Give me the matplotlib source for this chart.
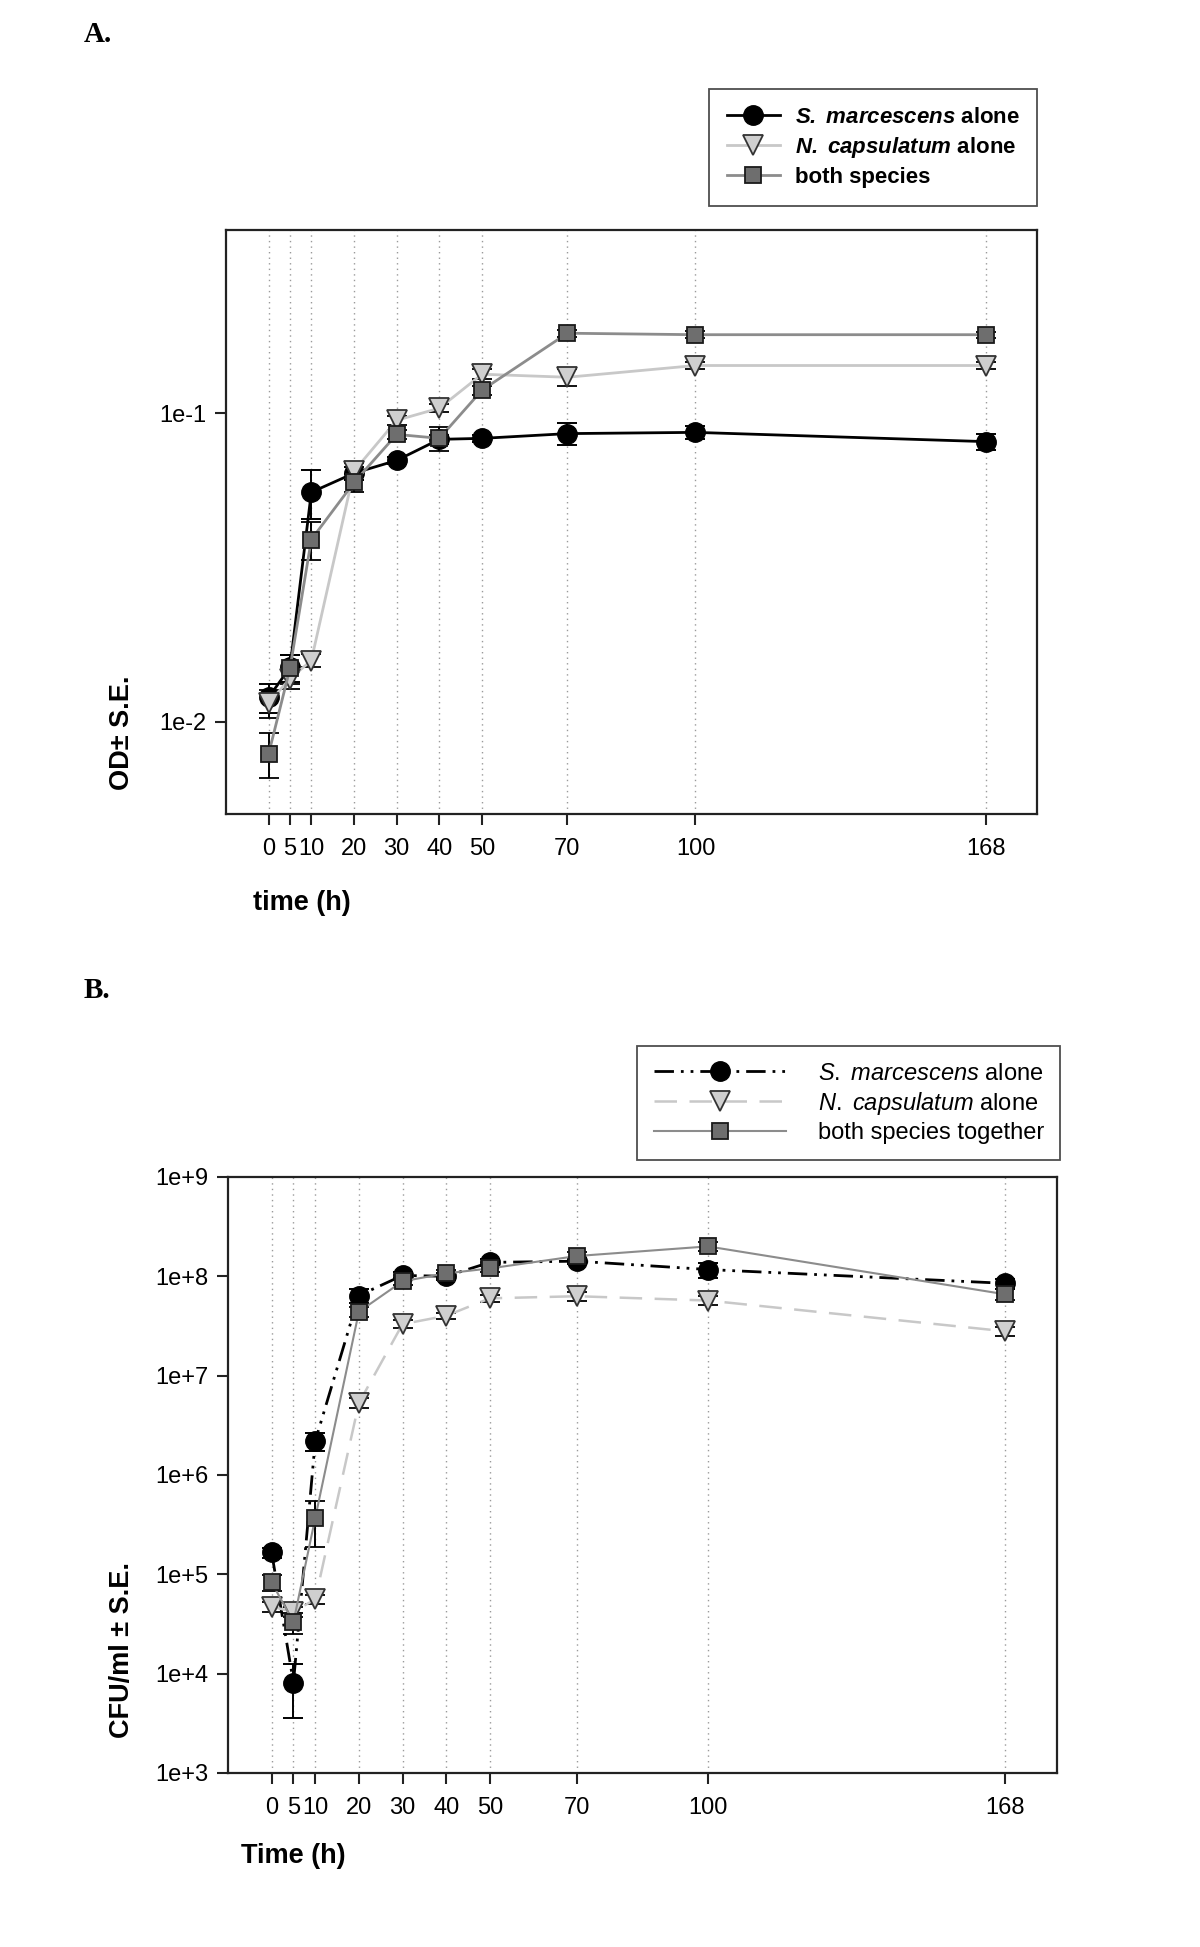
import matplotlib
matplotlib.use("Agg")
import matplotlib.pyplot as plt
from matplotlib.lines import Line2D
from matplotlib.ticker import FixedLocator, FixedFormatter, NullLocator

plt.rcParams['font.family'] = ['Liberation Sans', 'DejaVu Sans']
plt.rcParams['mathtext.fontset'] = 'custom'
plt.rcParams['mathtext.it'] = 'Liberation Sans:italic'
plt.rcParams['mathtext.bf'] = 'Liberation Sans:italic:bold'
plt.rcParams['mathtext.rm'] = 'Liberation Sans'

times = [0, 5, 10, 20, 30, 40, 50, 70, 100, 168]

# panel A: optical density
od_sm = [0.0120, 0.0150, 0.0555, 0.0640, 0.0704, 0.0824, 0.0830, 0.0860, 0.0868, 0.0810]
od_sm_se = [0.0013, 0.0015, 0.0100, 0.0030, 0.0020, 0.0030, 0.0020, 0.0070, 0.0040, 0.0050]
od_nc = [0.0115, 0.0138, 0.0158, 0.0650, 0.0950, 0.1040, 0.1340, 0.1310, 0.1430, 0.1430]
od_nc_se = [0.0012, 0.0010, 0.0008, 0.0040, 0.0030, 0.0030, 0.0050, 0.0080, 0.0040, 0.0040]
od_both = [0.00787, 0.0149, 0.0390, 0.0597, 0.0855, 0.0830, 0.1190, 0.1820, 0.1800, 0.1800]
od_both_se = [0.0013, 0.0016, 0.0055, 0.0040, 0.0030, 0.0075, 0.0040, 0.0050, 0.0050, 0.0040]

# panel B: colony forming units
cfu_sm = [1.66e5, 8.1e3, 2.2e6, 6.4e7, 1.02e8, 1.0e8, 1.38e8, 1.42e8, 1.17e8, 8.5e7]
cfu_sm_se = [2.0e4, 4.5e3, 4.5e5, 1.0e7, 8.0e6, 8.0e6, 1.2e7, 1.0e7, 2.0e7, 1.0e7]
cfu_nc = [4.7e4, 4.2e4, 5.6e4, 5.3e6, 3.3e7, 4.0e7, 6.0e7, 6.3e7, 5.7e7, 2.8e7]
cfu_nc_se = [5.0e3, 5.0e3, 6.0e3, 6.0e5, 3.0e6, 3.0e6, 5.0e6, 6.0e6, 6.0e6, 3.0e6]
cfu_both = [8.3e4, 3.3e4, 3.7e5, 4.4e7, 8.9e7, 1.07e8, 1.2e8, 1.6e8, 2.0e8, 6.6e7]
cfu_both_se = [1.5e4, 8.0e3, 1.8e5, 5.0e6, 8.0e6, 1.0e7, 1.0e7, 1.5e7, 2.0e7, 8.0e6]

labels_a = [r"$\mathbf{S.\ marcescens}$ alone", r"$\mathbf{N.\ capsulatum}$ alone", "both species"]
labels_b = [r"$\mathit{S.\ marcescens}$ alone", r"$\mathit{N.\ capsulatum}$ alone", "both species together"]

fig = plt.figure(figsize=(12, 19.47), dpi=100)
axA = fig.add_axes([0.1883, 0.5819, 0.6758, 0.2999])
axB = fig.add_axes([0.19, 0.0894, 0.6908, 0.3061])

sm_style = dict(color='black', marker='o', ms=14, mfc='black', mec='black')
nc_style = dict(color='#c8c8c8', marker='v', ms=14, mfc='#cfcfcf', mec='#333333', mew=1.3)
both_style = dict(color='#8c8c8c', marker='s', ms=12, mfc='#6e6e6e', mec='#1a1a1a', mew=1.3)
eb = dict(ecolor='black', elinewidth=1.4, capsize=7, capthick=1.4)


def draw(ax, series, styles, lstyles, lws):
    for (y, se), st, ls, lw in zip(series, styles, lstyles, lws):
        ax.errorbar(times, y, yerr=se, ls=ls, lw=lw, **st, **eb)


draw(axA, [(od_sm, od_sm_se), (od_nc, od_nc_se), (od_both, od_both_se)],
     [sm_style, nc_style, both_style], ['-', '-', '-'], [2.0, 2.0, 2.0])

dashdotdot = (0, (7, 2.5, 1, 2.5, 1, 2.5))
longdash = (0, (9, 5))
draw(axB, [(cfu_sm, cfu_sm_se), (cfu_nc, cfu_nc_se), (cfu_both, cfu_both_se)],
     [sm_style, nc_style, both_style], [dashdotdot, longdash, '-'], [2.0, 1.8, 1.5])

for ax in (axA, axB):
    ax.set_yscale('log')
    ax.set_xlim(-10, 180)
    ax.set_xticks(times)
    ax.set_xticklabels([str(t) for t in times])
    ax.grid(axis='x', linestyle=(0, (1, 3)), color='#9a9a9a', lw=1.0)
    ax.set_axisbelow(True)
    ax.tick_params(axis='both', labelsize=17, length=8, width=1.5, color='#222222')
    ax.tick_params(axis='x', pad=9)
    ax.tick_params(axis='y', pad=6)
    ax.yaxis.set_minor_locator(NullLocator())
    for s in ax.spines.values():
        s.set_linewidth(1.6)
        s.set_color('#222222')

axA.set_ylim(0.00502, 0.393)
axA.yaxis.set_major_locator(FixedLocator([0.01, 0.1]))
axA.yaxis.set_major_formatter(FixedFormatter(['1e-2', '1e-1']))

axB.set_ylim(1e3, 1e9)
bt = [1e3, 1e4, 1e5, 1e6, 1e7, 1e8, 1e9]
axB.yaxis.set_major_locator(FixedLocator(bt))
axB.yaxis.set_major_formatter(FixedFormatter(['1e+3', '1e+4', '1e+5', '1e+6', '1e+7', '1e+8', '1e+9']))

# legends
hA = [Line2D([], [], ls='-', lw=2, **sm_style),
      Line2D([], [], ls='-', lw=2, **nc_style),
      Line2D([], [], ls='-', lw=2, **both_style)]
legA = fig.legend(hA, labels_a, loc='upper left', bbox_to_anchor=(709 / 1200, 1 - 89 / 1947),
                  frameon=True, fancybox=False, edgecolor='#222222', numpoints=1,
                  prop=dict(weight='bold', size=16), handlelength=2.4, handletextpad=0.65,
                  labelspacing=0.32, borderpad=0.8, borderaxespad=0)
legA.get_frame().set_linewidth(1.3)

hB = [Line2D([], [], ls=dashdotdot, lw=2, **sm_style),
      Line2D([], [], ls=longdash, lw=1.8, **nc_style),
      Line2D([], [], ls='-', lw=1.5, **both_style)]
legB = fig.legend(hB, labels_b, loc='upper left', bbox_to_anchor=(637 / 1200, 1 - 1046 / 1947),
                  frameon=True, fancybox=False, edgecolor='#222222', numpoints=1,
                  prop=dict(size=17), handlelength=5.6, handletextpad=1.35,
                  labelspacing=0.22, borderpad=0.7, borderaxespad=0)
legB.get_frame().set_linewidth(1.3)

# panel letters and axis labels
fig.text(84 / 1200, 1 - 34 / 1947, 'A.', family='Liberation Serif', weight='bold', size=21, va='center')
fig.text(84 / 1200, 1 - 990 / 1947, 'B.', family='Liberation Serif', weight='bold', size=21, va='center')
fig.text(302 / 1200, 1 - 903 / 1947, 'time (h)', weight='bold', size=19.5, ha='center', va='center')
fig.text(293 / 1200, 1 - 1856 / 1947, 'Time (h)', weight='bold', size=19.5, ha='center', va='center')
fig.text(122 / 1200, 1 - 733 / 1947, 'OD± S.E.', weight='bold', size=19.5, ha='center', va='center', rotation=90)
fig.text(122 / 1200, 1 - 1650 / 1947, 'CFU/ml ± S.E.', weight='bold', size=19.5, ha='center', va='center', rotation=90)

fig.savefig('out.png', dpi=100)
